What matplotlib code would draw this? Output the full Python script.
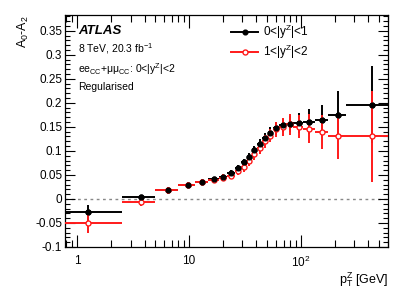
import numpy as np
import matplotlib

matplotlib.use("Agg")
import matplotlib.pyplot as plt
from matplotlib.lines import Line2D
from matplotlib.ticker import FixedLocator, FuncFormatter, LogLocator, MultipleLocator, NullFormatter

plt.rcParams["font.family"] = ["Liberation Sans", "DejaVu Sans"]
plt.rcParams["mathtext.fontset"] = "custom"
plt.rcParams["mathtext.rm"] = "Liberation Sans"
plt.rcParams["mathtext.it"] = "Liberation Sans:italic"

# pT^Z bin edges [GeV]
edges = [0, 2.5, 5, 8, 11.4, 14.9, 18.5, 22, 25.5, 29, 32.6, 36.4, 40.4, 44.9,
         50.2, 56.4, 63.9, 73.4, 85.4, 105, 132, 173, 253, 600]

# A0-A2, 0<|y^Z|<1
a_central = [-0.028, 0.003, 0.018, 0.029, 0.036, 0.041, 0.046, 0.055, 0.064, 0.077,
             0.088, 0.101, 0.115, 0.126, 0.137, 0.147, 0.153, 0.156, 0.158, 0.161,
             0.165, 0.175, 0.196]
e_central = [0.015, 0.006, 0.006, 0.005, 0.005, 0.005, 0.006, 0.006, 0.007, 0.007,
             0.008, 0.009, 0.010, 0.011, 0.012, 0.013, 0.014, 0.016, 0.020, 0.026,
             0.030, 0.050, 0.080]

# A0-A2, 1<|y^Z|<2
a_forward = [-0.050, -0.007, 0.018, 0.030, 0.035, 0.040, 0.044, 0.048, 0.058, 0.066,
             0.079, 0.093, 0.106, 0.120, 0.132, 0.145, 0.150, 0.155, 0.150, 0.146,
             0.139, 0.131, 0.130]
e_forward = [0.021, 0.008, 0.007, 0.006, 0.006, 0.006, 0.007, 0.007, 0.008, 0.009,
             0.010, 0.011, 0.012, 0.013, 0.014, 0.016, 0.018, 0.021, 0.024, 0.030,
             0.035, 0.047, 0.095]

labels = ["0<|y$^{\\mathrm{Z}}$|<1", "1<|y$^{\\mathrm{Z}}$|<2"]

XMIN, XMAX = 0.78, 600
YMIN, YMAX = -0.1, 0.383
RED = "#ff1a1a"

lo = np.maximum(np.array(edges[:-1], float), XMIN)
hi = np.array(edges[1:], float)
centers = (np.array(edges[:-1]) + hi) / 2
xerr = [centers - lo, hi - centers]

fig = plt.figure(figsize=(4.09, 2.94), dpi=100)
ax = fig.add_axes([0.159, 0.160, 0.790, 0.789])

ax.axhline(0, color="#888888", lw=1.0, ls=(0, (2, 2.5)), zorder=1)

ax.errorbar(centers, a_central, xerr=xerr, yerr=e_central, fmt="o", color="black",
            ms=3.4, lw=1.4, elinewidth=1.4, capsize=0, zorder=2)
ax.errorbar(centers, a_forward, xerr=xerr, yerr=e_forward, fmt="o", color=RED,
            mfc="white", mec=RED, mew=1.0, ms=3.6, lw=1.4, elinewidth=1.4,
            capsize=0, zorder=3)
ax.plot(centers, a_central, "o", color="black", ms=3.4, zorder=4)

ax.set_xscale("log")
ax.set_xlim(XMIN, XMAX)
ax.set_ylim(YMIN, YMAX)

ax.xaxis.set_major_locator(FixedLocator([1, 10, 100]))
ax.xaxis.set_major_formatter(FuncFormatter(
    lambda v, p: {1: "1", 10: "10", 100: "10$^{2}$"}.get(int(round(v)), "")))
ax.xaxis.set_minor_locator(LogLocator(base=10, subs=np.arange(2, 10), numticks=20))
ax.xaxis.set_minor_formatter(NullFormatter())

ax.yaxis.set_major_locator(MultipleLocator(0.05))
ax.yaxis.set_minor_locator(MultipleLocator(0.01))
ax.yaxis.set_major_formatter(FuncFormatter(lambda v, p: f"{v:g}" if abs(v) > 1e-9 else "0"))

ax.tick_params(which="both", direction="in", top=True, right=True, labelsize=8.5,
               width=0.8, color="black")
ax.tick_params(axis="x", which="major", length=9, pad=6)
ax.tick_params(axis="x", which="minor", length=5)
ax.tick_params(axis="y", which="major", length=7, pad=2)
ax.tick_params(axis="y", which="minor", length=3.5)
for sp in ax.spines.values():
    sp.set_linewidth(0.9)

ax.set_ylabel("A$_{0}$-A$_{2}$", fontsize=9, loc="top", labelpad=3)
ax.set_xlabel("p$_{\\mathrm{T}}^{\\mathrm{Z}}$ [GeV]", fontsize=9, loc="right", labelpad=0)

ax.text(0.04, 0.93, "ATLAS", transform=ax.transAxes, fontsize=9.5, fontweight="bold",
        fontstyle="italic", va="center")
ax.text(0.04, 0.855, "8 TeV, 20.3 fb$^{-1}$", transform=ax.transAxes, fontsize=7.5,
        va="center")
ax.text(0.04, 0.765, "ee$_{\\mathrm{CC}}$+\u03bc\u03bc$_{\\mathrm{CC}}$: 0<|y$^{\\mathrm{Z}}$|<2",
        transform=ax.transAxes, fontsize=7.5, va="center")
ax.text(0.04, 0.69, "Regularised", transform=ax.transAxes, fontsize=7.5, va="center")

handles = [
    Line2D([], [], color="black", lw=1.4, marker="o", ms=3.4),
    Line2D([], [], color=RED, lw=1.4, marker="o", ms=3.6, mfc="white", mec=RED, mew=1.0),
]
ax.legend(handles, labels, loc="upper left", bbox_to_anchor=(0.5, 0.985), frameon=False,
          fontsize=8.5, handlelength=2.3, handletextpad=0.4, labelspacing=0.15,
          borderaxespad=0)

fig.savefig("out.png", dpi=100)
